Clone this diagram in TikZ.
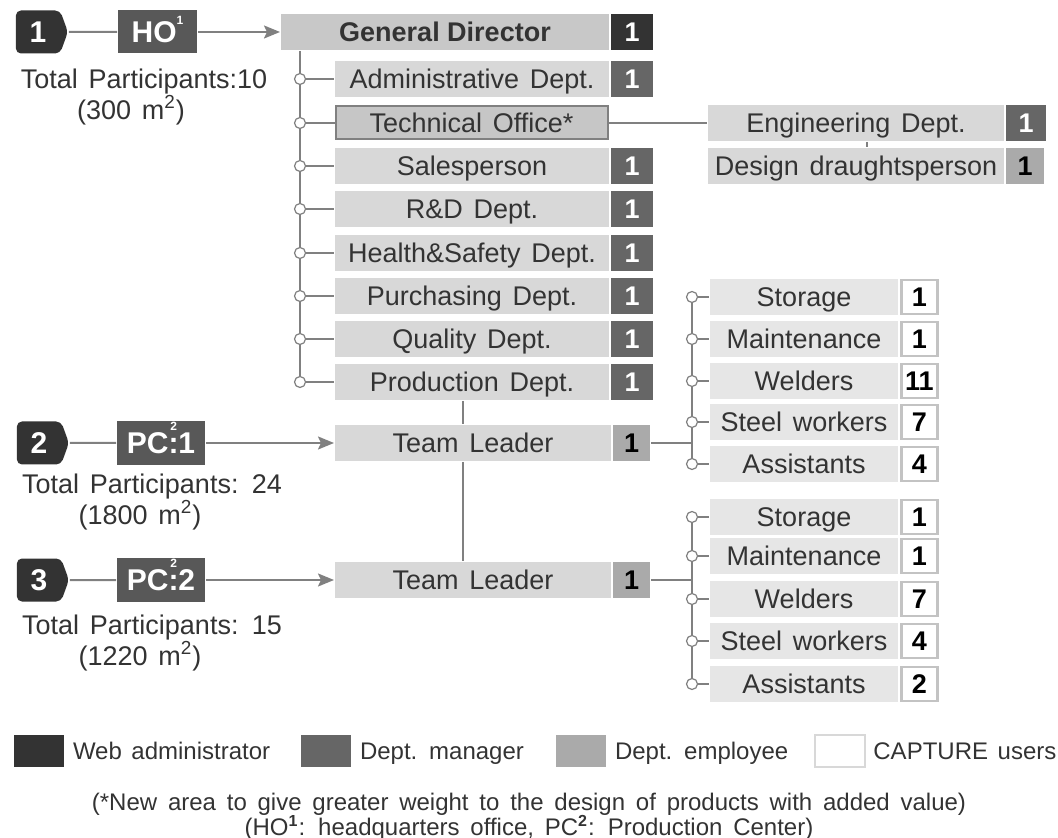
\documentclass[tikz,border=0pt]{standalone}
\usepackage{fontspec}
\setmainfont{Liberation Sans}
\usetikzlibrary{arrows.meta,shapes.symbols,positioning}

\definecolor{ink}{HTML}{333333}
\definecolor{webadm}{HTML}{333333}
\definecolor{mgrgray}{HTML}{666666}
\definecolor{sitegray}{HTML}{585858}
\definecolor{empgray}{HTML}{AAAAAA}
\definecolor{boxfill}{HTML}{D8D8D8}
\definecolor{chieffill}{HTML}{C8C8C8}
\definecolor{techfill}{HTML}{C6C6C6}
\definecolor{crewfill}{HTML}{E6E6E6}
\definecolor{wiregray}{HTML}{808080}

\newcommand{\lbl}{\fontsize{13.5}{16}\selectfont\spaceskip=0.4em\relax}
\newcommand{\lblb}{\fontsize{13.5}{16}\selectfont\bfseries}
\newcommand{\keyfont}{\fontsize{12}{14}\selectfont\spaceskip=0.4em\relax}
\newcommand{\notefont}{\fontsize{12}{14}\selectfont\spaceskip=0.45em\relax}
\newcommand{\badgefont}{\fontsize{15}{16}\selectfont\bfseries}
\newcommand{\sitefont}{\fontsize{15}{16}\selectfont\bfseries}
\newcommand{\tinysup}[1]{\raisebox{0.6em}{\fontsize{6}{6}\selectfont #1}}
\newcommand{\colontwo}{\makebox[0pt][l]{\hspace{0.9pt}\raisebox{0.78em}{\fontsize{6}{6}\selectfont 2}}:}

\begin{document}
\begin{tikzpicture}[x=0.5pt, y=-0.5pt, line width=1pt,
    every node/.style={font=\lbl, text=ink, inner sep=0pt},
    mid/.style={text height=9.7pt, text depth=0pt},
    wire/.style={draw=wiregray, line width=1pt},
    go/.style={wire, -{Stealth[length=8pt, width=6.5pt, inset=1.5pt]}},
    badge/.style={shape=signal, signal to=east, signal pointer angle=140,
        fill=webadm, rounded corners=2.5pt, minimum width=26pt, minimum height=21.5pt,
        text=white, font=\badgefont, text height=10.7pt, text depth=0pt},
    site/.style={fill=sitegray, text=white, font=\sitefont, minimum height=21.5pt,
        text height=10.7pt, text depth=0pt},
    chief/.style={mid, fill=chieffill, font=\lblb, minimum width=164pt, minimum height=18pt},
    dept/.style={mid, fill=boxfill, minimum width=137pt, minimum height=18pt},
    tech/.style={mid, fill=techfill, draw=wiregray, line width=1pt, minimum width=136pt, minimum height=16.5pt},
    crew/.style={mid, fill=crewfill, minimum width=94pt, minimum height=18pt},
    adm/.style={mid, fill=webadm, text=white, font=\lblb, minimum width=21pt, minimum height=18pt},
    mgr/.style={mid, fill=mgrgray, text=white, font=\lblb, minimum width=21pt, minimum height=18pt},
    emp/.style={mid, fill=empgray, text=black, font=\lblb, minimum width=19pt, minimum height=18pt},
    usr/.style={mid, fill=white, draw=empgray!70, line width=1.2pt, text=black, font=\lblb,
        minimum width=18pt, minimum height=17pt},
    knob/.style={circle, draw=wiregray, line width=0.6pt, fill=white, minimum size=5.5pt},
    key/.style={minimum width=25pt, minimum height=16pt},
    keytext/.style={font=\keyfont, text height=8.6pt, text depth=0pt},
    note/.style={font=\notefont}
]

    \useasboundingbox (0,0) rectangle (1058,838);

    % Head office
    \node[badge] (b1) at (38,32) {1};
    \node[site, minimum width=39.5pt] (ho) at (157.5,32) {HO\tinysup{1}};
    \node[chief, anchor=west] (gd) at (280,32) {General Director};
    \node[adm, right=0pt of gd] (gd-n) {1};
    \draw[wire] (b1) -- (ho);
    \draw[go] (ho) -- (gd);
    \node (tp1) at (144,82) {Total Participants:10};
    \node (ar1) at (131,110) {(300 m\textsuperscript{2})};

    % departments under the director
    \coordinate (spine) at (300,382);
    \draw[wire] (gd.south -| spine) -- (spine);
    \foreach \nm/\y/\txt in {adm/79/Administrative Dept., sal/166/Salesperson,
        rd/209/R\&D Dept., hs/253/Health\&Safety Dept., pur/296/Purchasing Dept.,
        qua/339/Quality Dept., prod/382/Production Dept.}{
        \node[dept, anchor=west] (\nm) at (334,\y) {\txt};
        \node[mgr, right=0pt of \nm] (\nm-n) {1};
        \node[knob] (k-\nm) at (300,\y) {};
        \draw[wire] (k-\nm) -- (\nm);
    }

    % technical office
    \node[tech, anchor=west] (tec) at (334.5,123) {Technical Office*};
    \node[knob] (k-tec) at (300,123) {};
    \draw[wire] (k-tec) -- (tec);
    \node[dept, anchor=west, minimum width=148pt] (eng) at (707,123) {Engineering Dept.};
    \node[mgr, right=0pt of eng, minimum width=20pt] (eng-n) {1};
    \node[dept, anchor=west, minimum width=148pt] (des) at (707,166) {Design draughtsperson};
    \node[emp, right=0pt of des] (des-n) {1};
    \draw[wire] (tec) -- (eng);
    \coordinate (tick) at (867,0);
    \draw[wire, line width=0.6pt] (eng.south -| tick) -- (des.north -| tick);

    % production centre 1
    \node[badge] (b2) at (39,443) {2};
    \node[site, minimum width=44pt, minimum height=22pt] (pc1) at (161,443) {PC\colontwo 1};
    \node[dept, anchor=west, minimum width=138pt] (tl1) at (334,443) {Team Leader};
    \node[emp, right=0pt of tl1, minimum width=18.5pt] (tl1-n) {1};
    \draw[wire] (b2) -- (pc1);
    \draw[go] (pc1) -- (tl1);
    \node (tp2) at (152,487) {Total Participants: 24};
    \node (ar2) at (140,515) {(1800 m\textsuperscript{2})};

    % production centre 2
    \node[badge] (b3) at (39,580) {3};
    \node[site, minimum width=44pt, minimum height=22pt] (pc2) at (161,580) {PC\colontwo 2};
    \node[dept, anchor=west, minimum width=138pt] (tl2) at (334,580) {Team Leader};
    \node[emp, right=0pt of tl2, minimum width=18.5pt] (tl2-n) {1};
    \draw[wire] (b3) -- (pc2);
    \draw[go] (pc2) -- (tl2);
    \node (tp3) at (152,628) {Total Participants: 15};
    \node (ar3) at (140,656) {(1220 m\textsuperscript{2})};

    % chain of command
    \coordinate (drop) at (463,0);
    \draw[wire] (prod.south -| drop) -- (tl1.north -| drop);
    \draw[wire] (tl1.south -| drop) -- (tl2.north -| drop);

    % workers of centre 1
    \coordinate (ua) at (692,297);
    \coordinate (ue) at (692,464);
    \draw[wire] (ua) -- (ue);
    \draw[wire] (tl1-n) -- (tl1-n -| ua);
    \foreach \i/\y/\txt/\n in {1/297/Storage/1, 2/339/Maintenance/1, 3/381/Welders/11,
        4/422/Steel workers/7, 5/464/Assistants/4}{
        \node[crew, anchor=west] (u\i) at (709,\y) {\txt};
        \node[usr, right=0.6pt of u\i] (u\i-n) {\n};
        \node[knob] (ku\i) at (692,\y) {};
        \draw[wire] (ku\i) -- (u\i);
    }

    % workers of centre 2
    \coordinate (la) at (692,517);
    \coordinate (le) at (692,684);
    \draw[wire] (la) -- (le);
    \draw[wire] (tl2-n) -- (tl2-n -| la);
    \foreach \i/\y/\txt/\n in {1/517/Storage/1, 2/556/Maintenance/1, 3/599/Welders/7,
        4/641/Steel workers/4, 5/684/Assistants/2}{
        \node[crew, anchor=west] (l\i) at (709,\y) {\txt};
        \node[usr, right=0.6pt of l\i] (l\i-n) {\n};
        \node[knob] (kl\i) at (692,\y) {};
        \draw[wire] (kl\i) -- (l\i);
    }

    % legend
    \node[key, fill=webadm, anchor=west] (key-adm) at (13,751) {};
    \node[keytext, right=3.5pt of key-adm] (key-adm-t) {Web administrator};
    \node[key, fill=mgrgray, anchor=west] (key-mgr) at (300,751) {};
    \node[keytext, right=3.5pt of key-mgr] (key-mgr-t) {Dept. manager};
    \node[key, fill=empgray, anchor=west] (key-emp) at (555,751) {};
    \node[keytext, right=3.5pt of key-emp] (key-emp-t) {Dept. employee};
    \node[key, fill=white, draw=boxfill, line width=1.2pt, anchor=west] (key-usr) at (814,751) {};
    \node[keytext, right=3pt of key-usr] (key-usr-t) {CAPTURE users};

    % notes
    \node[note] (note1) at (529,804) {(*New area to give greater weight to the design of products with added value)};
    \node[note] (note2) at (529,828) {(HO\textsuperscript{\textbf{1}}: headquarters office, PC\textsuperscript{\textbf{2}}: Production Center)};

\end{tikzpicture}
\end{document}
